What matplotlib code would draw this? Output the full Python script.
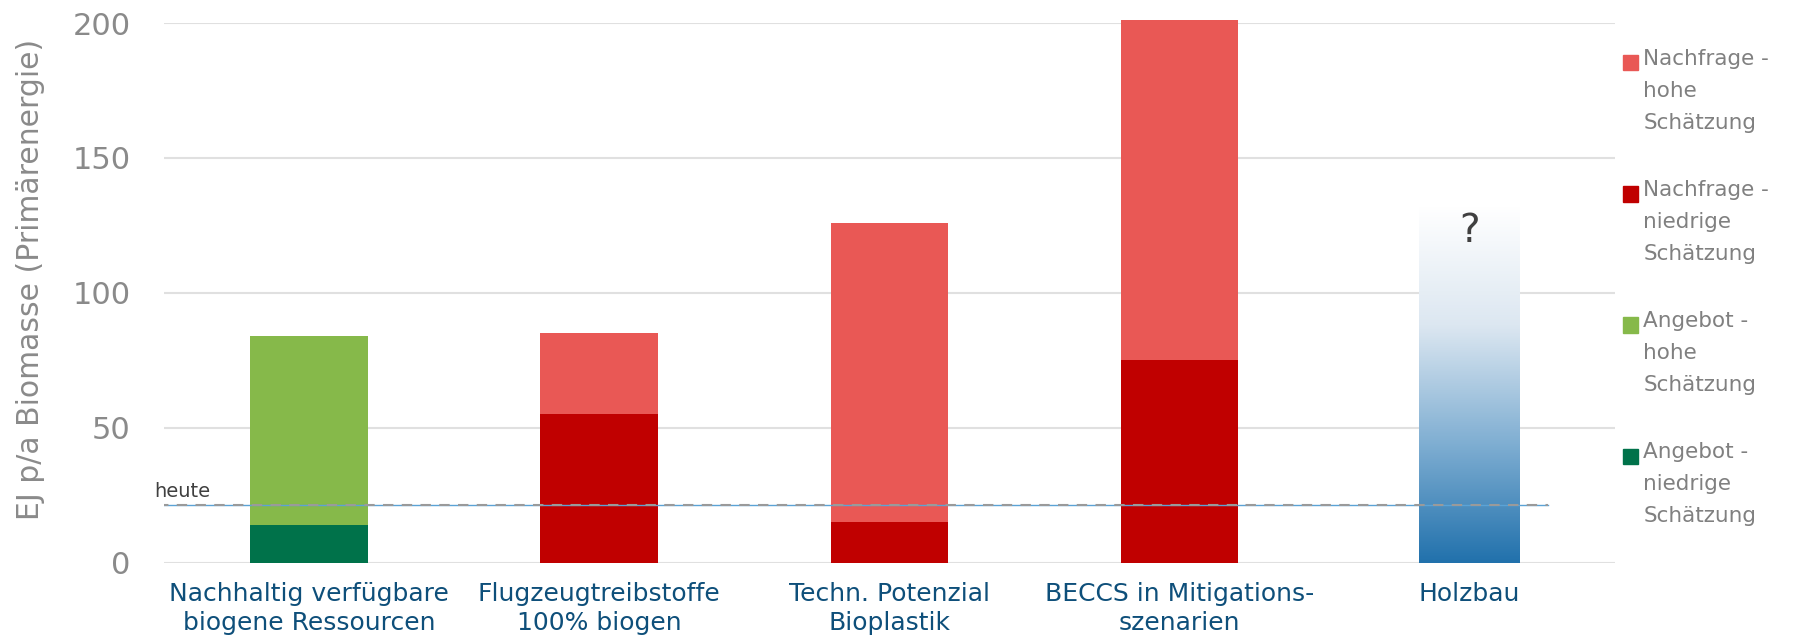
import numpy as np
import matplotlib
matplotlib.use('Agg')
import matplotlib.pyplot as plt
from matplotlib.colors import LinearSegmentedColormap
from matplotlib.patches import Rectangle

# data (EJ per year)
categories = ['Nachhaltig verfügbare\nbiogene Ressourcen', 'Flugzeugtreibstoffe\n100% biogen',
              'Techn. Potenzial\nBioplastik', 'BECCS in Mitigations-\nszenarien', 'Holzbau']
supply_low = [14, 0, 0, 0, 0]
supply_high = [84, 0, 0, 0, 0]
demand_low = [0, 55, 15, 75, 0]
demand_high = [0, 85, 126, 201, 0]
holzbau_top = 132
heute = 21.5
yticks = [0, 50, 100, 150, 200]

legend_labels = ['Nachfrage -\nhohe\nSchätzung', 'Nachfrage -\nniedrige\nSchätzung',
                 'Angebot -\nhohe\nSchätzung', 'Angebot -\nniedrige\nSchätzung']
c_dem_high = '#E95855'
c_dem_low = '#C00000'
c_sup_high = '#86B94A'
c_sup_low = '#00724A'
legend_colors = [c_dem_high, c_dem_low, c_sup_high, c_sup_low]

fig = plt.figure(figsize=(18.02, 6.4), dpi=100)
ax = fig.add_axes([0.091, 0.121, 0.805, 0.843])

x = np.arange(len(categories))
w = 0.405
low = np.array(supply_low)
high = np.array(supply_high)
ax.bar(x, low, w, color=c_sup_low, zorder=2)
ax.bar(x, high - low, w, bottom=low, color=c_sup_high, zorder=2)
dlow = np.array(demand_low)
dhigh = np.array(demand_high)
ax.bar(x, dlow, w, color=c_dem_low, zorder=2, clip_on=False)
ax.bar(x, dhigh - dlow, w, bottom=dlow, color=c_dem_high, zorder=2, clip_on=False)

# Holzbau gradient bar
cmap = LinearSegmentedColormap.from_list('holz', ['#2171AC', '#7FAED2', '#DCE7F1', '#FFFFFF'])
grad = np.linspace(0, 1, 256).reshape(-1, 1)
wh = 0.345
ax.imshow(grad, cmap=cmap, origin='lower', aspect='auto', zorder=2,
          extent=[4 - wh / 2, 4 + wh / 2, 0, holzbau_top])
ax.text(4, holzbau_top - 9, '?', ha='center', va='center', fontsize=28, color='#404040', zorder=3)

# heute line
ax.plot([-0.52, 4.27], [heute, heute], color='#5BA3D6', lw=1.0, zorder=3)
ax.plot([-0.52, 4.27], [heute, heute], color='#9A9A9A', lw=1.5, ls=(0, (5, 4)), zorder=3)
ax.text(-0.535, heute + 1.3, 'heute', fontsize=14, color='#404040', va='bottom', ha='left')

ax.set_xlim(-0.5, 4.5)
ax.set_ylim(0, 200)
ax.set_yticks(yticks)
ax.grid(axis='y', color='#E0E0E0', lw=1.5, zorder=0)
ax.set_axisbelow(True)
for s in ax.spines.values():
    s.set_visible(False)
ax.tick_params(axis='y', length=0, pad=24, labelsize=22, labelcolor='#8A8A8A')
ax.tick_params(axis='x', length=0, pad=14, labelsize=18, labelcolor='#0E4F7A')
ax.set_xticks(x)
ax.set_xticklabels(categories, linespacing=1.25)
ax.set_ylabel('EJ p/a Biomasse (Primärenergie)', fontsize=21.5, color='#8A8A8A')
ax.yaxis.set_label_coords(-0.082, 0.525)

# legend on the right
ys = [0.902, 0.697, 0.492, 0.287]
for lab, col, yy in zip(legend_labels, legend_colors, ys):
    fig.add_artist(Rectangle((0.9005, yy - 0.012), 0.0085, 0.024, transform=fig.transFigure,
                             color=col))
    fig.text(0.912, yy + 0.022, lab, fontsize=15.5, color='#808080', va='top', ha='left',
             linespacing=1.75)

fig.savefig('out.png', dpi=100)
